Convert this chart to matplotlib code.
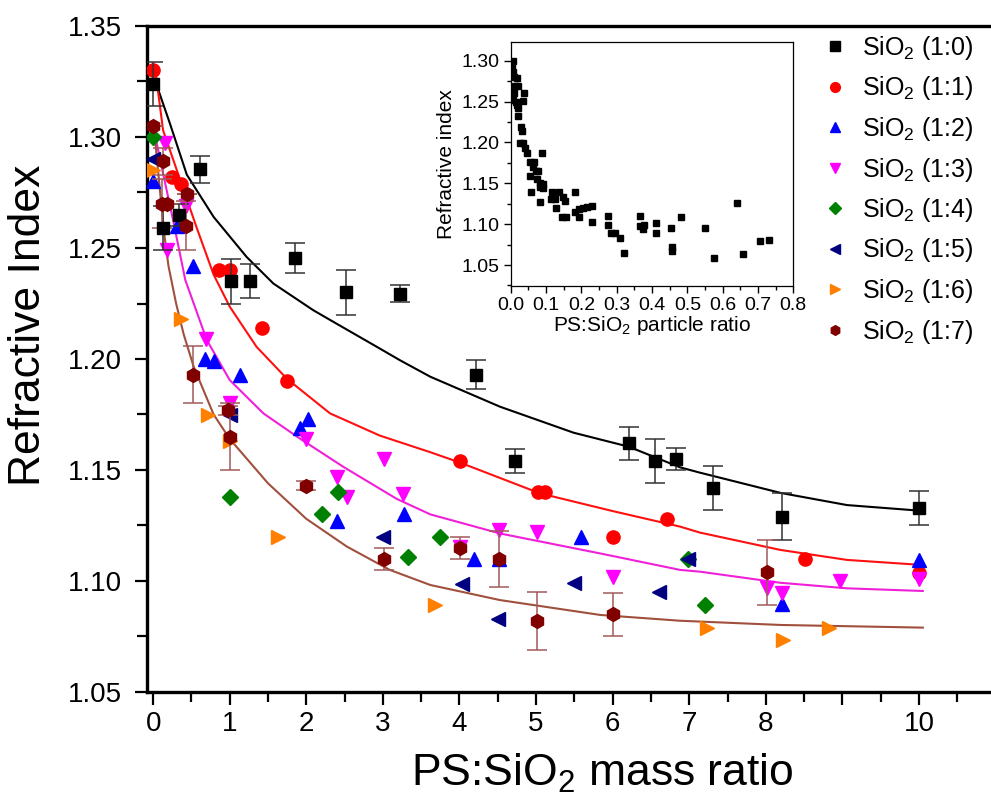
import matplotlib
matplotlib.use("Agg")
import matplotlib.pyplot as plt
from matplotlib.lines import Line2D
from matplotlib.ticker import MultipleLocator, FormatStrFormatter, FixedLocator, FixedFormatter

plt.rcParams['font.family'] = ['Liberation Sans', 'DejaVu Sans']
plt.rcParams['mathtext.fontset'] = 'custom'
plt.rcParams['mathtext.rm'] = 'Liberation Sans'
plt.rcParams['mathtext.it'] = 'Liberation Sans'

# ---------------- data ----------------
labels = ['SiO$_2$ (1:0)', 'SiO$_2$ (1:1)', 'SiO$_2$ (1:2)', 'SiO$_2$ (1:3)',
          'SiO$_2$ (1:4)', 'SiO$_2$ (1:5)', 'SiO$_2$ (1:6)', 'SiO$_2$ (1:7)']

x10 = [0.0, 0.13, 0.34, 0.61, 1.02, 1.27, 1.85, 2.52, 3.22, 4.22, 4.72, 6.21, 6.55, 6.83, 7.31, 8.21, 10.0]
y10 = [1.324, 1.259, 1.265, 1.2855, 1.235, 1.235, 1.2455, 1.23, 1.2295, 1.193, 1.154, 1.162, 1.154, 1.155, 1.142, 1.129, 1.133]
e10 = [0.01, 0.01, 0.005, 0.006, 0.01, 0.0077, 0.0068, 0.01, 0.004, 0.0066, 0.0054, 0.0073, 0.01, 0.005, 0.01, 0.0105, 0.0077]

x11 = [0.0, 0.24, 0.37, 0.86, 1.01, 1.42, 1.75, 4.01, 5.02, 5.12, 6.01, 6.71, 8.51, 10.0]
y11 = [1.33, 1.282, 1.279, 1.24, 1.24, 1.214, 1.19, 1.154, 1.14, 1.14, 1.12, 1.128, 1.11, 1.1035]

x12 = [0.0, 0.31, 0.52, 0.68, 0.80, 1.13, 1.92, 2.02, 2.40, 3.27, 4.19, 4.52, 5.59, 8.21, 10.0]
y12 = [1.28, 1.26, 1.242, 1.20, 1.199, 1.193, 1.169, 1.173, 1.127, 1.13, 1.11, 1.11, 1.12, 1.0895, 1.1095]

x13 = [0.15, 0.43, 0.18, 0.69, 1.01, 2.0, 2.4, 2.53, 3.02, 3.26, 4.01, 4.52, 5.01, 6.01, 8.01, 8.21, 8.97, 10.0]
y13 = [1.2975, 1.269, 1.249, 1.209, 1.18, 1.164, 1.147, 1.138, 1.155, 1.139, 1.1155, 1.123, 1.122, 1.102, 1.097, 1.0945, 1.10, 1.101]

x14 = [0.0, 1.01, 2.2, 2.42, 3.33, 3.75, 6.99, 7.21]
y14 = [1.30, 1.138, 1.13, 1.14, 1.111, 1.12, 1.11, 1.089]

x15 = [0.0, 1.0, 3.0, 4.03, 4.5, 5.5, 6.6, 6.99]
y15 = [1.29, 1.175, 1.12, 1.0985, 1.083, 1.099, 1.095, 1.11]

x16 = [0.0, 0.36, 0.71, 1.01, 1.63, 3.68, 7.23, 8.23, 8.82]
y16 = [1.285, 1.218, 1.175, 1.163, 1.12, 1.089, 1.079, 1.0735, 1.079]

x17 = [0.0, 0.13, 0.11, 0.18, 0.44, 0.43, 0.52, 0.98, 1.01, 2.0, 3.02, 4.01, 4.52, 5.01, 6.01, 8.01]
y17 = [1.305, 1.289, 1.27, 1.27, 1.2743, 1.26, 1.193, 1.177, 1.165, 1.143, 1.11, 1.115, 1.11, 1.082, 1.085, 1.104]
e17 = [0.0, 0.006, 0.011, 0.0, 0.0, 0.011, 0.013, 0.002, 0.015, 0.002, 0.005, 0.005, 0.0125, 0.013, 0.0096, 0.0146]

# fitted curves
cx0 = [0.04, 0.07, 0.22, 0.44, 0.79, 1.22, 1.57, 2.09, 2.31, 2.92, 3.22, 3.62, 4.53, 5.49, 6.21, 6.88, 7.14, 8.19, 9.06, 10.0]
cy0 = [1.325, 1.321, 1.306, 1.283, 1.264, 1.246, 1.234, 1.222, 1.2176, 1.2055, 1.1995, 1.192, 1.1785, 1.1668, 1.1605, 1.1512, 1.1488, 1.1397, 1.1342, 1.1317]
cx1 = [0.04, 0.13, 0.35, 0.57, 0.79, 1.0, 1.35, 1.75, 2.31, 2.96, 3.62, 4.01, 5.05, 6.0, 6.88, 7.14, 8.19, 9.06, 10.05]
cy1 = [1.327, 1.303, 1.281, 1.259, 1.238, 1.2236, 1.2055, 1.191, 1.1755, 1.1655, 1.158, 1.1533, 1.1395, 1.1315, 1.1245, 1.1218, 1.114, 1.1095, 1.1072]
cx2 = [0.03, 0.13, 0.27, 0.42, 0.70, 1.0, 1.44, 1.88, 2.48, 3.18, 3.62, 4.53, 5.84, 6.88, 7.14, 8.19, 9.06, 10.05]
cy2 = [1.300, 1.2836, 1.261, 1.2356, 1.2086, 1.1905, 1.1755, 1.165, 1.1515, 1.137, 1.130, 1.1214, 1.1124, 1.105, 1.1042, 1.0992, 1.0967, 1.0955]
cx3 = [0.01, 0.05, 0.10, 0.15, 0.20, 0.30, 0.40, 0.53, 0.79, 1.0, 1.25, 1.5, 2.0, 2.53, 3.09, 3.62, 4.53, 5.84, 6.88, 8.19, 10.05]
cy3 = [1.305, 1.290, 1.272, 1.255, 1.242, 1.225, 1.211, 1.1965, 1.175, 1.164, 1.154, 1.144, 1.128, 1.1155, 1.105, 1.0982, 1.0914, 1.0847, 1.0821, 1.0802, 1.079]

# inset data
ix = [0.006, 0.003, 0.006, 0.008, 0.017, 0.012, 0.02, 0.01, 0.039, 0.006, 0.036, 0.015, 0.019, 0.02,
      0.022, 0.028, 0.031, 0.025, 0.036, 0.041, 0.047, 0.09, 0.055, 0.067, 0.064, 0.072, 0.078, 0.055,
      0.074, 0.082, 0.091, 0.083, 0.092, 0.058, 0.116, 0.138, 0.182, 0.113, 0.125, 0.149, 0.153, 0.083,
      0.128, 0.144, 0.156, 0.182, 0.194, 0.205, 0.215, 0.229, 0.194, 0.229, 0.276, 0.276, 0.283, 0.295,
      0.309, 0.321, 0.366, 0.366, 0.377, 0.375, 0.411, 0.411, 0.454, 0.458, 0.458, 0.482, 0.55, 0.576,
      0.642, 0.657, 0.706, 0.732]
iy = [1.30, 1.2906, 1.2865, 1.2804, 1.279, 1.269, 1.269, 1.26, 1.26, 1.2519, 1.251, 1.2498, 1.2458, 1.2417,
      1.2323, 1.2193, 1.2144, 1.1997, 1.1997, 1.1927, 1.1874, 1.1874, 1.1756, 1.1756, 1.1703, 1.165, 1.165, 1.1589,
      1.1548, 1.15, 1.149, 1.146, 1.144, 1.139, 1.1397, 1.1397, 1.1397, 1.1303, 1.1303, 1.1336, 1.1287, 1.1267,
      1.1193, 1.1091, 1.1091, 1.1153, 1.1181, 1.1201, 1.1206, 1.1226, 1.1091, 1.103, 1.11, 1.099, 1.0896, 1.0896,
      1.0834, 1.0643, 1.11, 1.0977, 1.099, 1.0936, 1.101, 1.0887, 1.0949, 1.0716, 1.0675, 1.1091, 1.0949, 1.059,
      1.1263, 1.063, 1.0794, 1.0806]

x_ticks = [0, 1, 2, 3, 4, 5, 6, 7, 8, 9, 10]
x_tick_labels = ['0', '1', '2', '3', '4', '5', '6', '7', '8', '', '10']

colors = ['black', '#FF0000', '#0000FF', '#FF00FF', '#008000', '#000080', '#FF8000', '#800000']
markers = ['s', 'o', '^', 'v', 'D', '<', '>', 'h']

# ---------------- figure ----------------
W, H = 991, 809
fig = plt.figure(figsize=(W / 100, H / 100), dpi=100)
ax = fig.add_axes([147 / W, 1 - 692 / H, (W - 147) / W, (692 - 26) / H])

# curves
ax.plot(cx0, cy0, color='black', lw=1.5, zorder=2)
ax.plot(cx1, cy1, color='#FF1010', lw=1.5, zorder=2)
ax.plot(cx2, cy2, color='#F020D8', lw=1.5, zorder=2)
ax.plot(cx3, cy3, color='#A0503C', lw=1.5, zorder=2)

ms = 9
ax.errorbar(x10, y10, yerr=e10, fmt='s', color='black', ecolor='#333333', elinewidth=1.1,
            capsize=7, capthick=1.1, ms=ms - 0.5, zorder=5)
ax.plot(x11, y11, 'o', color=colors[1], ms=ms + 0.5, ls='none', zorder=4)
ax.plot(x12, y12, '^', color=colors[2], ms=ms + 1, ls='none', zorder=4)
ax.plot(x13, y13, 'v', color=colors[3], ms=ms + 1, ls='none', zorder=4)
ax.plot(x14, y14, 'D', color=colors[4], ms=ms - 1, ls='none', zorder=4)
ax.plot(x15, y15, '<', color=colors[5], ms=ms + 1, ls='none', zorder=4)
ax.plot(x16, y16, '>', color=colors[6], ms=ms + 1, ls='none', zorder=4)
ax.errorbar(x17, y17, yerr=e17, fmt='h', color=colors[7], ecolor='#A05A5A', elinewidth=1.1,
            capsize=7, capthick=1.1, ms=ms + 1, zorder=5)

ax.set_xlim(-0.08, 10.94)
ax.set_ylim(1.05, 1.35)
ax.xaxis.set_major_locator(FixedLocator(x_ticks))
ax.xaxis.set_major_formatter(FixedFormatter(x_tick_labels))
ax.xaxis.set_minor_locator(MultipleLocator(0.5))
ax.yaxis.set_major_locator(MultipleLocator(0.05))
ax.yaxis.set_minor_locator(MultipleLocator(0.025))
ax.yaxis.set_major_formatter(FormatStrFormatter('%.2f'))
ax.tick_params(which='both', direction='out', width=1.6, labelsize=20, top=False, right=False)
ax.tick_params(which='major', length=9)
ax.tick_params(which='minor', length=7)
ax.tick_params(axis='y', which='major', pad=9)
ax.tick_params(axis='x', which='major', pad=5)
for s in ['left', 'bottom', 'top']:
    ax.spines[s].set_linewidth(2.4)
ax.spines['right'].set_visible(False)

ax.set_ylabel('Refractive Index', fontsize=32)
ax.set_xlabel('PS:SiO$_2$ mass ratio', fontsize=32)
ax.yaxis.set_label_coords((49 - 147) / (W - 147), 0.5 + 34 / 666)
ax.xaxis.set_label_coords(0.5 - (147 + (W - 147) / 2 - 602) / (W - 147), -(752 - 692) / 666)

handles = [Line2D([], [], marker=m, color=c, ls='none', ms=7 if m not in ('D',) else 6)
           for m, c in zip(markers, colors)]
ax.legend(handles, labels, loc='upper left', bbox_to_anchor=(812 / W, 1 - 24 / H),
          bbox_transform=fig.transFigure, frameon=False, fontsize=18, handlelength=1.0,
          handletextpad=0.62, labelspacing=0.5, borderaxespad=0, numpoints=1)

# ---------------- inset ----------------
ia = fig.add_axes([510.7 / W, 1 - 286 / H, 282.6 / W, 244.3 / H])
ia.plot(ix, iy, 's', color='black', ms=4.5, ls='none')
ia.set_xlim(0, 0.8)
ia.set_ylim(1.0243, 1.3233)
ia.xaxis.set_major_locator(MultipleLocator(0.1))
ia.xaxis.set_minor_locator(MultipleLocator(0.05))
ia.yaxis.set_major_locator(FixedLocator([1.05, 1.10, 1.15, 1.20, 1.25, 1.30]))
ia.yaxis.set_minor_locator(FixedLocator([1.025, 1.075, 1.125, 1.175, 1.225, 1.275, 1.325]))
ia.xaxis.set_major_formatter(FormatStrFormatter('%.1f'))
ia.yaxis.set_major_formatter(FormatStrFormatter('%.2f'))
ia.tick_params(which='both', direction='out', width=1, labelsize=14, top=False, right=False)
ia.tick_params(which='major', length=5, pad=3)
ia.tick_params(which='minor', length=3)
for s in ia.spines.values():
    s.set_linewidth(0.9)
ia.set_ylabel('Refractive index', fontsize=15, labelpad=4)
ia.set_xlabel('PS:SiO$_2$ particle ratio', fontsize=15, labelpad=0)

fig.savefig('out.png', dpi=100)
